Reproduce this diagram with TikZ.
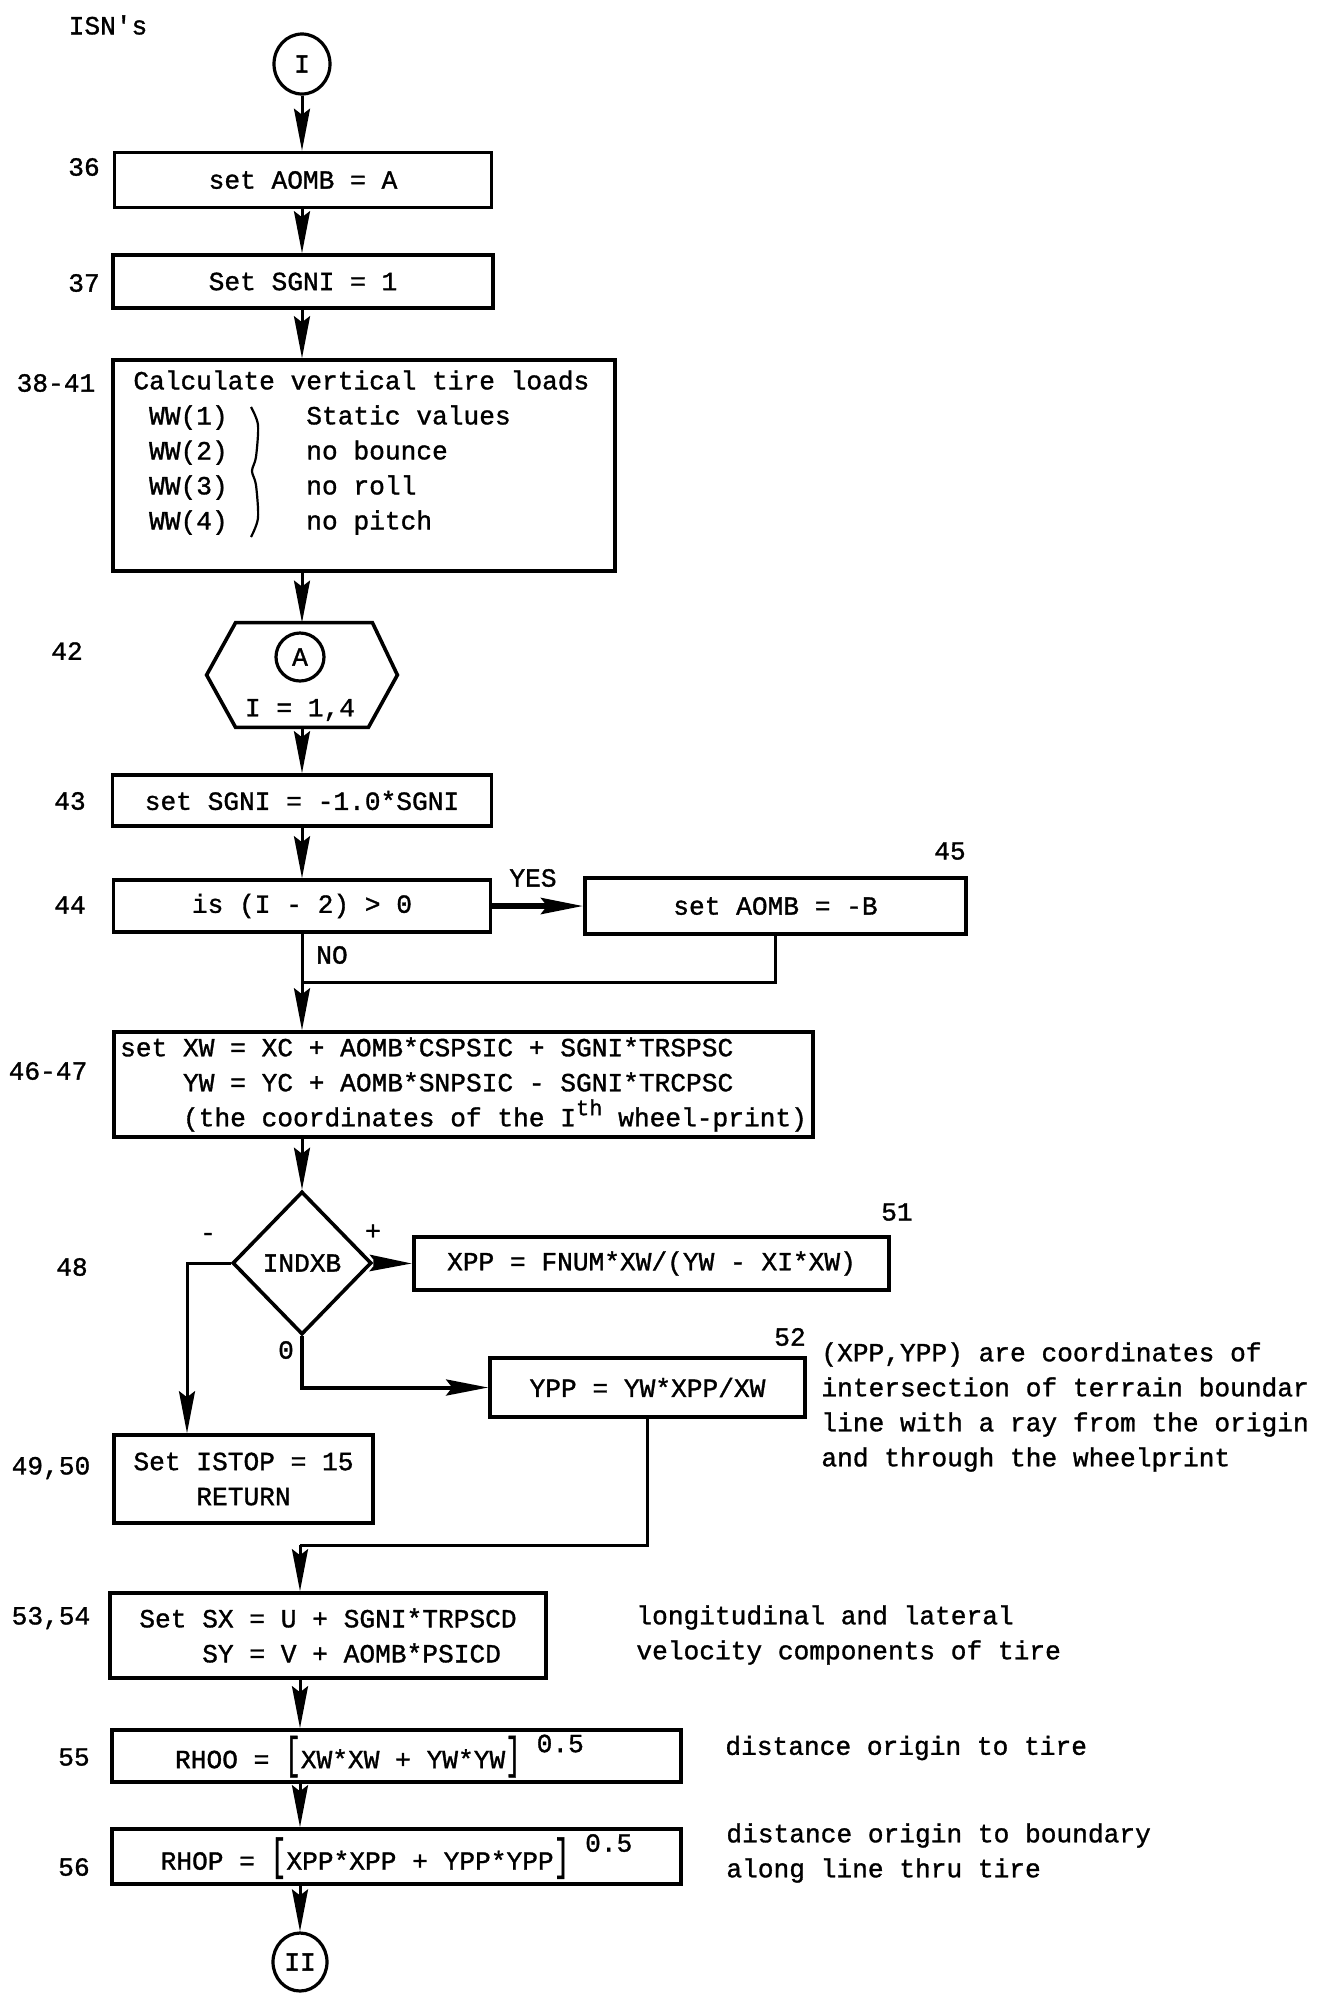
\documentclass[tikz,border=0pt]{standalone}
\usepackage{fontspec}
\setmonofont{Liberation Mono}[FakeBold=1.2]
\usetikzlibrary{arrows.meta,positioning,calc,shapes.geometric}
\newcommand{\tallbr}[1]{\scalebox{1}[1.7]{#1}}

\begin{document}
\begin{tikzpicture}[
  x=0.5pt,y=-0.5pt,
  every node/.style={font=\ttfamily\fontsize{13.1}{17.5}\selectfont},
  box/.style={draw,line width=1.8pt,inner sep=2pt},
  conn/.style={draw,ellipse,line width=1.6pt,inner sep=0pt},
  ln/.style={draw,line width=1.5pt},
  arr/.style={draw,line width=1.5pt,-{Stealth[length=21pt,width=8pt,inset=3pt]}},
  arrb/.style={arr,line width=2.8pt},
  isn/.style={inner sep=0pt},
  note/.style={align=left,anchor=west,inner sep=0pt}
]
\useasboundingbox (0,0) rectangle (1321,1993);

\node[isn] (isn) at (108,25) {ISN's};
\node[conn,minimum width=28pt,minimum height=30pt] (c1) at (302,64) {I};
\node[box,minimum width=188.5pt,minimum height=27.5pt] (b36) at (303,180) {set AOMB = A};
\node[box,minimum width=190pt,minimum height=26.5pt] (b37) at (303,281.5) {Set SGNI = 1};
\node[box,minimum width=251pt,minimum height=105.5pt] (b38) at (364,465.5) {};
\node[align=left,anchor=north west,inner sep=0pt] (t38) at (133,370) {Calculate vertical tire loads\\
  \hspace*{0.6em}WW(1)\hspace*{3em}Static values\\
  \hspace*{0.6em}WW(2)\hspace*{3em}no bounce\\
  \hspace*{0.6em}WW(3)\hspace*{3em}no roll\\
  \hspace*{0.6em}WW(4)\hspace*{3em}no pitch};
\draw[line width=1.1pt] plot[smooth] coordinates {(251,407) (258,425) (256,457) (252,471) (256,485) (258,518) (251,537)};

% loop head
\node[minimum width=95pt,minimum height=52pt,inner sep=0pt] (l42) at (302,675) {};
\draw[line width=1.8pt] (l42.west) -- ([xshift=14.5pt]l42.north west) -- ([xshift=-12.5pt]l42.north east)
  -- (l42.east) -- ([xshift=-14.5pt]l42.south east) -- ([xshift=14.5pt]l42.south west) -- cycle;
\node[conn,circle,minimum size=24pt] (cA) at (300,657) {A};
\node[isn] (t42) at (300,710) {I = 1,4};

\node[box,minimum width=189.5pt,minimum height=25.5pt] (b43) at (302,800.5) {set SGNI = -1.0*SGNI};
\node[box,minimum width=188.5pt,minimum height=26pt] (b44) at (302,906) {is (I - 2) > 0};
\node[box,minimum width=190.5pt,minimum height=28pt] (b45) at (775.5,906) {set AOMB = -B};
\node[box,minimum width=349.5pt,minimum height=52.5pt,align=left] (b46) at (463.5,1084.5) {set XW = XC + AOMB*CSPSIC + SGNI*TRSPSC\\
  \hphantom{set }YW = YC + AOMB*SNPSIC - SGNI*TRCPSC\\
  \hphantom{set }(the coordinates of the I\raisebox{0.8ex}{\fontsize{11}{11}\selectfont th} wheel-print)};

% test on INDXB
\node[shape=diamond,draw,line width=1.8pt,minimum width=69.5pt,minimum height=71.5pt,inner sep=0pt] (d48) at (302,1263) {INDXB};
\node[box,minimum width=237.5pt,minimum height=26.5pt] (b51) at (651.5,1263.5) {XPP = FNUM*XW/(YW - XI*XW)};
\node[box,minimum width=129.5pt,minimum height=44pt,align=center] (b49) at (243.5,1479) {Set ISTOP = 15\\RETURN};
\node[box,minimum width=157.5pt,minimum height=29.5pt] (b52) at (647.5,1387.5) {YPP = YW*XPP/XW};

\node[box,minimum width=218pt,minimum height=42.5pt,align=left] (b53) at (328,1635.5) {Set SX = U + SGNI*TRPSCD\\
  \hphantom{Set }SY = V + AOMB*PSICD};
\node[box,minimum width=284.5pt,minimum height=26pt] (b55) at (396.5,1756) {RHOO = \tallbr{[}XW*XW + YW*YW\tallbr{]} \raisebox{8pt}{0.5}\hspace*{1.3em}};
\node[box,minimum width=284.5pt,minimum height=27.5pt] (b56) at (396.5,1856.5) {RHOP = \tallbr{[}XPP*XPP + YPP*YPP\tallbr{]} \raisebox{9pt}{0.5}};
\node[conn,minimum width=27pt,minimum height=29pt] (c2) at (300,1962) {II};

% ISN numbers
\foreach \n/\t/\x/\y in {n36/36/84/167, n37/37/84/283, n38/38-41/56/383, n42/42/67/651,
    n43/43/70/801, n44/44/70/905, n45/45/950/851, n46/46-47/48/1071, n48/48/72/1267,
    n49/{49,50}/51/1468, n51/51/897/1212, n52/52/790/1337, n53/{53,54}/51/1618,
    n55/55/74/1757, n56/56/74/1867}
  \node[isn] (\n) at (\x,\y) {\t};

% branch labels
\node[isn] (lyes) at (533,878) {YES};
\node[isn] (lno) at (332,955) {NO};
\node[isn] (lminus) at (208,1237) {-};
\node[isn] (lplus) at (373,1232) {+};
\node[isn] (lzero) at (286,1350) {0};

% comments at the right
\node[note] (nxy) at (821,1407) {(XPP,YPP) are coordinates of\\intersection of terrain boundar\\line with a ray from the origin\\and through the wheelprint};
\node[note] (nvel) at (636,1635) {longitudinal and lateral\\velocity components of tire};
\node[note] (nrho) at (725,1748) {distance origin to tire};
\node[note] (nbnd) at (726,1853) {distance origin to boundary\\along line thru tire};

% flow
\draw[arr] (c1.south) -- (c1.south |- b36.north);
\draw[arr] (c1 |- b36.south) -- (c1 |- b37.north);
\draw[arr] (c1 |- b37.south) -- (c1 |- b38.north);
\draw[arr] (c1 |- b38.south) -- (l42.north);
\draw[arr] (l42.south) -- (b43.north);
\draw[arr] (b43.south) -- (b44.north);
\draw[arrb] (b44.east) -- (b45.west);
\coordinate (j1) at (302,982);
\draw[ln] (b44.south) -- (j1);
\draw[ln] (b45.south) |- (j1);
\draw[arr] (j1) -- (j1 |- b46.north);
\draw[arr] (j1 |- b46.south) -- (d48.north);
\draw[arrb] (d48.east) -- (b51.west);
\coordinate (k1) at (187,1263);
\draw[arr] (d48.west) -- (k1) -- (k1 |- b49.north);
\draw[arr,line width=2pt] (d48.south) |- (b52.west);
\coordinate (j2) at (300,1545);
\draw[ln] (b52.south) |- (j2);
\draw[arr] (j2) -- (j2 |- b53.north);
\draw[arr] (j2 |- b53.south) -- (j2 |- b55.north);
\draw[arr] (j2 |- b55.south) -- (j2 |- b56.north);
\draw[arr] (j2 |- b56.south) -- (c2.north);
\end{tikzpicture}
\end{document}
